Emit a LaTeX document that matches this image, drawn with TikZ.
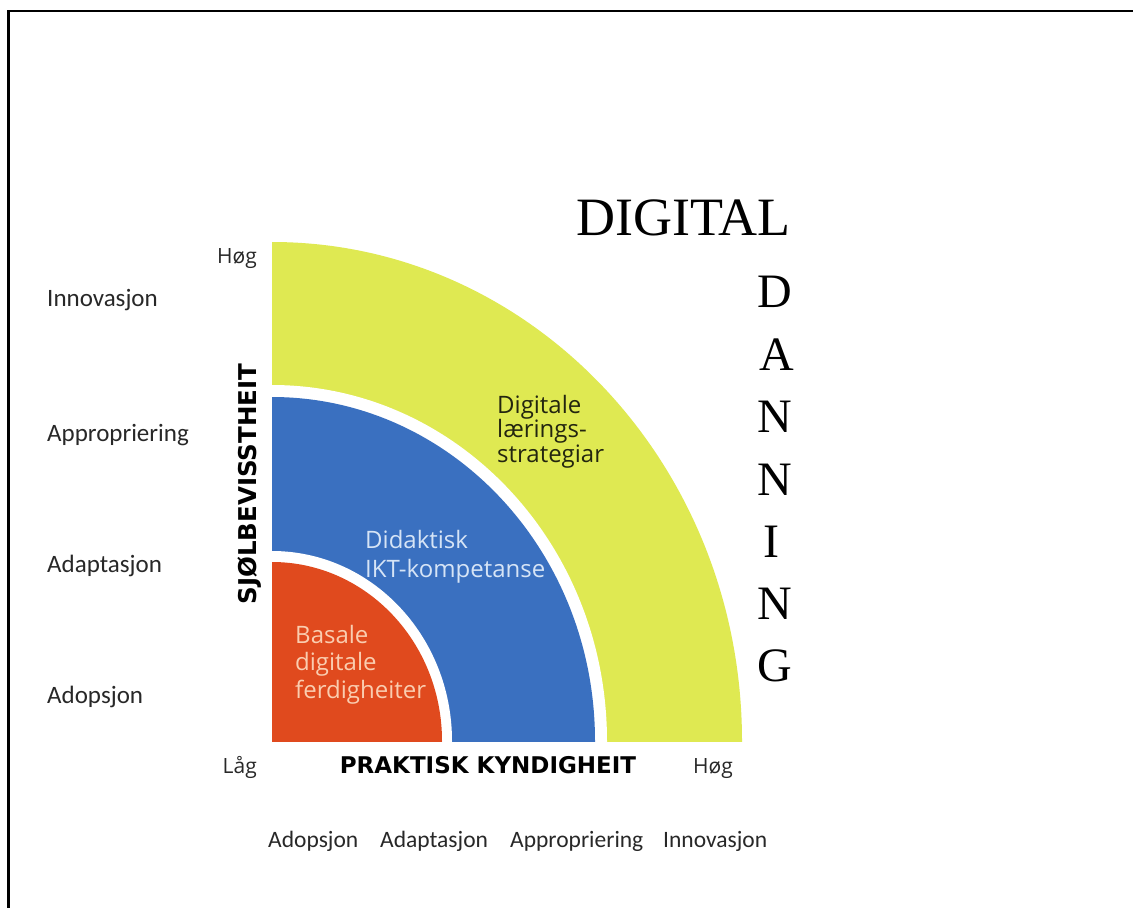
\documentclass[tikz,border=0pt]{standalone}
\usepackage{fontspec}
\setmainfont{Liberation Serif}
\newfontfamily\carl{Carlito}
\newfontfamily\osans{Open Sans}
\newfontfamily\dvs{DejaVu Sans}
\definecolor{yel}{RGB}{223,233,82}
\definecolor{blu}{RGB}{58,112,192}
\definecolor{redd}{RGB}{224,74,30}
\definecolor{lbl}{RGB}{40,40,40}
\definecolor{ytxt}{RGB}{35,37,15}
\definecolor{btxt}{RGB}{214,228,246}
\definecolor{rtxt}{RGB}{250,205,176}
\tikzset{
  sidelbl/.style={font=\carl\fontsize{25}{30}\selectfont, text=lbl, anchor=base west, inner sep=0pt},
  botlbl/.style={font=\carl\fontsize{23.5}{28}\selectfont, text=lbl, anchor=base west, inner sep=0pt},
  hilo/.style={font=\osans\fontsize{21}{25}\selectfont, text=lbl, inner sep=0pt},
  axislbl/.style={font=\dvs\bfseries\fontsize{23}{28}\selectfont, text=black, inner sep=0pt},
  inlbl/.style={font=\osans\fontsize{24}{28}\selectfont, anchor=base west, inner sep=0pt},
  bigser/.style={font=\fontsize{54}{60}\selectfont, text=black, inner sep=0pt},
  letser/.style={font=\fontsize{48}{54}\selectfont, text=black, inner sep=0pt, anchor=base}
}
\begin{document}
\begin{tikzpicture}[x=1pt,y=-1pt]
\useasboundingbox (0,0) rectangle (1133,908);
\fill[white] (0,0) rectangle (1133,908);
% frame
\draw[line width=2.6pt] (8.5,908) -- (8.5,11) -- (1133,11);
% quadrants
\begin{scope}
  \clip (272,741) rectangle (1000,200);
  \fill[yel] (272,741) ellipse [x radius=470pt, y radius=499pt];
  \fill[white] (272,741) ellipse [x radius=335pt, y radius=356pt];
  \fill[blu] (272,741) ellipse [x radius=323pt, y radius=344pt];
  \fill[white] (272,741) ellipse [x radius=180pt, y radius=190pt];
  \fill[redd] (272,741) ellipse [x radius=170pt, y radius=179pt];
\end{scope}
% inner labels
\node[inlbl, text=ytxt] (y1) at (497,413) {Digitale};
\node[inlbl, text=ytxt] (y2) at (497,437.5) {lærings-};
\node[inlbl, text=ytxt] (y3) at (497,462) {strategiar};
\node[inlbl, text=btxt] (b1) at (365,548) {Didaktisk};
\node[inlbl, text=btxt] (b2) at (365,577) {IKT-kompetanse};
\node[inlbl, text=rtxt] (r1) at (295,643) {Basale};
\node[inlbl, text=rtxt] (r2) at (295,670) {digitale};
\node[inlbl, text=rtxt] (r3) at (295,698) {ferdigheiter};
% axis labels
\node[hilo, anchor=base east] (hogy) at (257,263) {Høg};
\node[hilo, anchor=base east] (lag) at (257,773) {Låg};
\node[hilo, anchor=base west] (hogx) at (693,773) {Høg};
\node[axislbl, anchor=base] (prak) at (488,773) {PRAKTISK KYNDIGHEIT};
\node[axislbl, font=\dvs\bfseries\fontsize{24.5}{28}\selectfont, rotate=90] (sjol) at (250,484) {SJØLBEVISSTHEIT};
% side labels
\node[sidelbl] (s4) at (47,306) {Innovasjon};
\node[sidelbl] (s3) at (47,441) {Appropriering};
\node[sidelbl] (s2) at (47,572) {Adaptasjon};
\node[sidelbl] (s1) at (47,703) {Adopsjon};
% bottom labels
\node[botlbl] (x1) at (268,847) {Adopsjon};
\node[botlbl] (x2) at (380,847) {Adaptasjon};
\node[botlbl] (x3) at (510,847) {Appropriering};
\node[botlbl] (x4) at (663,847) {Innovasjon};
% DIGITAL DANNING
\node[bigser, anchor=base east] (dig) at (791,235) {DIGITAL};
\node[letser] (l1) at (775,307) {D};
\node[letser] (l2) at (777,370) {A};
\node[letser] (l3) at (775,432) {N};
\node[letser] (l4) at (775,495) {N};
\node[letser] (l5) at (771,557) {I};
\node[letser] (l6) at (775,619) {N};
\node[letser] (l7) at (775,681) {G};
\end{tikzpicture}
\end{document}
